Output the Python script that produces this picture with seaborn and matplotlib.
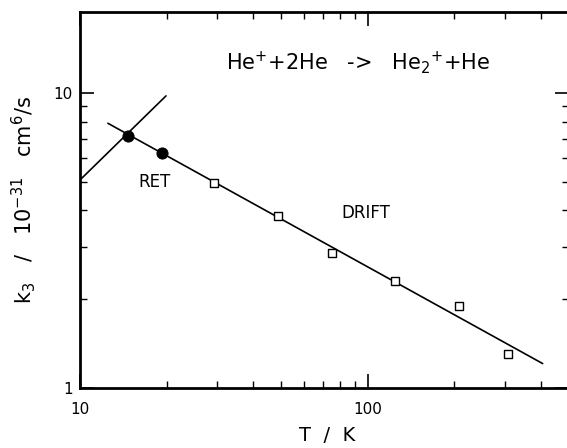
import matplotlib
matplotlib.use("Agg")
import matplotlib.pyplot as plt
import seaborn as sns

# Measured rate coefficients for He+ + 2He -> He2+ + He
ret_T = [14.7, 19.3]
ret_k = [7.15, 6.26]
drift_T = [29.2, 48.7, 75.0, 124.0, 207.0, 306.0]
drift_k = [4.95, 3.83, 2.87, 2.31, 1.90, 1.30]

# Power-law fit lines (end points)
fit_drift_T = [12.5, 405.0]
fit_drift_k = [7.89, 1.21]
fit_ret_T = [10.0, 19.9]
fit_ret_k = [5.07, 9.77]

sns.set_theme(style="ticks")
plt.rcParams["font.family"] = ["DejaVu Sans"]
plt.rcParams["mathtext.default"] = "regular"
plt.rcParams["text.color"] = "black"
plt.rcParams["axes.labelcolor"] = "black"

W, H = 567, 448
fig = plt.figure(figsize=(W / 100, H / 100), dpi=100)
# axes box in pixels: left 80, right 569, bottom 388, top 12
ax = fig.add_axes([80 / W, (H - 388) / H, 489 / W, 376 / H])

sns.lineplot(x=fit_drift_T, y=fit_drift_k, ax=ax, color="black", lw=1.2)
sns.lineplot(x=fit_ret_T, y=fit_ret_k, ax=ax, color="black", lw=1.2)
sns.scatterplot(x=ret_T, y=ret_k, ax=ax, marker="o", s=65, color="black",
                edgecolor="black", zorder=5)
sns.scatterplot(x=drift_T, y=drift_k, ax=ax, marker="s", s=35,
                facecolor="white", edgecolor="black", linewidth=1.0, zorder=5)

ax.set_xscale("log")
ax.set_yscale("log")
ax.set_xlim(10, 500)
ax.set_ylim(1, 18.8)

for s in ax.spines.values():
    s.set_linewidth(2.0)
    s.set_color("black")

ax.tick_params(which="both", direction="in", top=True, right=True,
               colors="black", labelsize=11)
ax.tick_params(which="major", length=10, width=1.2)
ax.tick_params(which="minor", length=5, width=1.0)
ax.tick_params(axis="x", which="both", pad=10)
ax.tick_params(axis="y", which="both", pad=5)
ax.set_xticks([10, 100])
ax.set_xticklabels(["10", "100"])
ax.set_yticks([1, 10])
ax.set_yticklabels(["1", "10"])

ax.set_xlabel("T  /  K", fontsize=14)
ax.xaxis.set_label_coords((327 - 80) / 489, -(426 - 388) / 376)
ax.set_ylabel("k$_3$   /   10$^{-31}$   cm$^6$/s", fontsize=15)
ax.yaxis.set_label_coords(-(80 - 38) / 489, (388 - 200) / 376)


def fig_xy(x, y):
    return x / W, 1 - y / H


fig.text(*fig_xy(226, 63), "He$^{+}$+2He   ->   He$_2$$^{+}$+He", fontsize=15,
         va="center", ha="left")
fig.text(*fig_xy(138, 182), "RET", fontsize=12, va="center", ha="left")
fig.text(*fig_xy(341, 213), "DRIFT", fontsize=12, va="center", ha="left")

fig.savefig("out.png", dpi=100, facecolor="white")
